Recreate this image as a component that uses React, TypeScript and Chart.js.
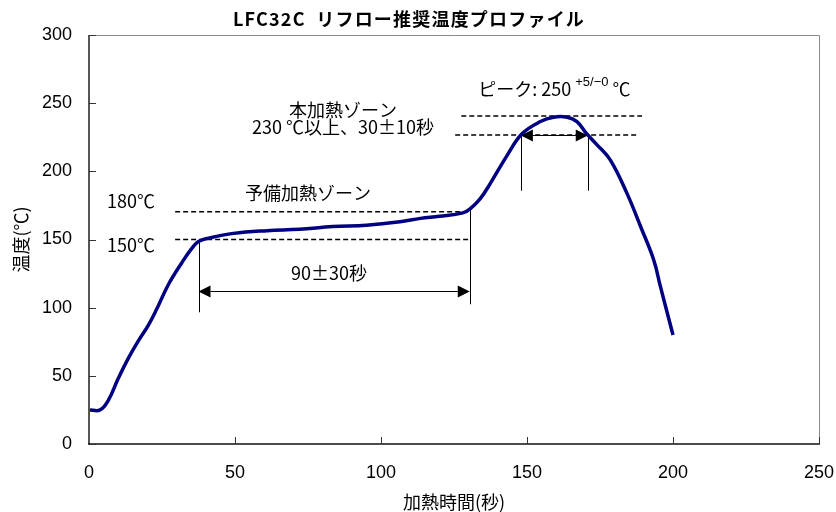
import React, { useEffect, useRef } from "react";
import { Chart, registerables } from "chart.js";

Chart.register(...registerables);

// ---- data ----
const timeSec = [0, 3.8, 6.6, 10, 13.5, 17, 20.3, 23.2, 27.2, 31.8, 35.2, 37.5, 41, 49.5, 61, 72, 83.5, 95, 106.5, 113.5, 120, 128, 130.5, 134, 137.4, 143, 148.3, 154.6, 159.1, 163.7, 167.1, 170.5, 174, 178.5, 184.2, 189, 193.4, 195.7, 200];
const tempC = [25, 25, 32, 48, 63, 76, 87, 99, 117, 133, 143.5, 148.5, 151, 154.5, 156.5, 157.5, 159.5, 160.5, 163, 165.5, 167, 169.5, 172.5, 180, 191, 211, 227.5, 236.5, 239.7, 239.7, 236.5, 227.4, 219.4, 208.4, 184, 159, 135, 115.4, 80];

const xTicks = [0, 50, 100, 150, 200, 250];
const yTicks = [0, 50, 100, 150, 200, 250, 300];

const TITLE = "LFC32C  リフロー推奨温度プロファイル";
const X_TITLE = "加熱時間(秒)";
const Y_TITLE = "温度(℃)";

// annotation levels (data units)
const preheatLines = [170.4, 150]; // dashed lines labelled 180℃ / 150℃
const preheatSpan = [29.5, 130.6];
const preheatArrow = { from: 37.5, to: 130.4, level: 112.5 };
const preheatVerticals = [
  { t: 37.5, top: 150, bottom: 96.6 },
  { t: 130.4, top: 174, bottom: 102.5 },
];
const peakLine = { level: 240.6, from: 127.5, to: 189.4 };
const reflowLine = { level: 226.7, from: 125.4, to: 188.2 };
const reflowArrow = { from: 147.9, to: 170.8, level: 226.7 };
const reflowVerticals = [
  { t: 147.9, top: 226.7, bottom: 185.8 },
  { t: 170.8, top: 226.7, bottom: 185.8 },
];

const FONT = "'Liberation Sans', 'Noto Sans CJK JP', sans-serif";
const FONT_JP = "'Noto Sans CJK JP', 'Liberation Sans', sans-serif";

const annotationPlugin = {
  id: "annot",
  beforeDatasetsDraw(chart: any) {
    const ctx = chart.ctx;
    const xs = chart.scales.x;
    const ys = chart.scales.y;
    const px = (t: number) => xs.getPixelForValue(t);
    const py = (v: number) => ys.getPixelForValue(v);
    ctx.save();
    ctx.strokeStyle = "#000";
    ctx.lineWidth = 1.6;
    ctx.setLineDash([5, 3]);
    const dashed = (t1: number, t2: number, v: number) => {
      ctx.beginPath();
      ctx.moveTo(px(t1), py(v));
      ctx.lineTo(px(t2), py(v));
      ctx.stroke();
    };
    preheatLines.forEach((v) => dashed(preheatSpan[0], preheatSpan[1], v));
    dashed(peakLine.from, peakLine.to, peakLine.level);
    dashed(reflowLine.from, reflowLine.to, reflowLine.level);
    ctx.setLineDash([]);
    ctx.lineWidth = 1;
    const vert = (o: { t: number; top: number; bottom: number }) => {
      ctx.beginPath();
      const x = Math.round(px(o.t)) + 0.5;
      ctx.moveTo(x, py(o.top));
      ctx.lineTo(x, py(o.bottom));
      ctx.stroke();
    };
    preheatVerticals.forEach(vert);
    reflowVerticals.forEach(vert);
    const arrow = (a: { from: number; to: number; level: number }) => {
      const x1 = px(a.from);
      const x2 = px(a.to);
      const y = Math.round(py(a.level)) + 0.5;
      const hl = 12;
      const hw = 6;
      ctx.lineWidth = 1.2;
      ctx.beginPath();
      ctx.moveTo(x1 + hl, y);
      ctx.lineTo(x2 - hl, y);
      ctx.stroke();
      ctx.fillStyle = "#000";
      ctx.beginPath();
      ctx.moveTo(x1, y);
      ctx.lineTo(x1 + hl, y - hw);
      ctx.lineTo(x1 + hl, y + hw);
      ctx.closePath();
      ctx.fill();
      ctx.beginPath();
      ctx.moveTo(x2, y);
      ctx.lineTo(x2 - hl, y - hw);
      ctx.lineTo(x2 - hl, y + hw);
      ctx.closePath();
      ctx.fill();
    };
    arrow(preheatArrow);
    arrow(reflowArrow);

    // texts
    ctx.fillStyle = "#000";
    ctx.font = `18px ${FONT_JP}`;
    ctx.textBaseline = "middle";
    ctx.textAlign = "center";
    ctx.fillText("本加熱ゾーン", px(87), py(245));
    ctx.fillText("230 ℃以上、30±10秒", px(87), py(232.5));
    ctx.fillText("予備加熱ゾーン", px(75), py(184));
    ctx.fillText("90±30秒", px(82.2), py(125.5));
    ctx.textAlign = "left";
    ctx.fillText("180℃", px(6.2), py(178));
    ctx.fillText("150℃", px(6.2), py(146));
    // peak text with superscript
    let x = px(133.3);
    const yb = py(260);
    const main = "ピーク: 250 ";
    ctx.fillText(main, x, yb);
    x += ctx.measureText(main).width;
    ctx.font = `13px ${FONT}`;
    const sup = "+5/−0";
    ctx.fillText(sup, x, yb - 7);
    x += ctx.measureText(sup).width;
    ctx.font = `18px ${FONT_JP}`;
    ctx.fillText(" ℃", x, yb);
    ctx.restore();
  },
  afterDraw(chart: any) {
    const ctx = chart.ctx;
    const a = chart.chartArea;
    const xs = chart.scales.x;
    const ys = chart.scales.y;
    ctx.save();
    // top and right border
    ctx.strokeStyle = "#8a8a8a";
    ctx.lineWidth = 1;
    ctx.beginPath();
    ctx.moveTo(a.left, a.top + 0.5);
    ctx.lineTo(a.right + 0.5, a.top + 0.5);
    ctx.lineTo(a.right + 0.5, a.bottom);
    ctx.stroke();
    // left axis
    ctx.strokeStyle = "#555";
    ctx.lineWidth = 2;
    ctx.beginPath();
    ctx.moveTo(a.left, a.top);
    ctx.lineTo(a.left, a.bottom);
    ctx.stroke();
    // bottom axis
    ctx.strokeStyle = "#111";
    ctx.lineWidth = 1.5;
    ctx.beginPath();
    ctx.moveTo(a.left - 1, a.bottom);
    ctx.lineTo(a.right + 1, a.bottom);
    ctx.stroke();
    // inward ticks
    ctx.lineWidth = 1;
    ctx.strokeStyle = "#333";
    xTicks.forEach((t) => {
      if (t === 0) return;
      const x = Math.round(xs.getPixelForValue(t)) + 0.5;
      ctx.beginPath();
      ctx.moveTo(x, a.bottom);
      ctx.lineTo(x, a.bottom - 7);
      ctx.stroke();
    });
    yTicks.forEach((v) => {
      const y = Math.round(ys.getPixelForValue(v)) + 0.5;
      ctx.beginPath();
      ctx.moveTo(a.left, y);
      ctx.lineTo(a.left + 7, y);
      ctx.stroke();
    });
    // titles
    ctx.fillStyle = "#000";
    ctx.textAlign = "center";
    ctx.textBaseline = "middle";
    ctx.font = `bold 18px ${FONT_JP}`;
    (ctx as any).letterSpacing = "1.2px";
    ctx.fillText(TITLE, 409, 19);
    (ctx as any).letterSpacing = "0px";
    ctx.font = `18px ${FONT_JP}`;
    ctx.fillText(X_TITLE, (a.left + a.right) / 2, 502);
    ctx.save();
    ctx.translate(21, (a.top + a.bottom) / 2);
    ctx.rotate(-Math.PI / 2);
    ctx.fillText(Y_TITLE, 0, 0);
    ctx.restore();
    ctx.restore();
  },
};

export default function App() {
  const ref = useRef<HTMLCanvasElement | null>(null);
  useEffect(() => {
    document.body.style.margin = "0";
    const canvas = ref.current;
    if (!canvas) return;
    const chart = new Chart(canvas, {
      type: "line",
      data: {
        datasets: [
          {
            data: timeSec.map((t, i) => ({ x: t, y: tempC[i] })),
            borderColor: "#000080",
            borderWidth: 3.5,
            pointRadius: 0,
            fill: false,
            tension: 0.4,
          },
        ],
      },
      options: {
        animation: false,
        responsive: false,
        maintainAspectRatio: false,
        devicePixelRatio: 1,
        layout: { padding: { top: 35, right: 17, left: 0, bottom: 0 } },
        plugins: {
          legend: { display: false },
          title: { display: false },
          tooltip: { enabled: false },
        },
        scales: {
          x: {
            type: "linear",
            min: 0,
            max: 250,
            afterBuildTicks: (s: any) => {
              s.ticks = xTicks.map((v) => ({ value: v }));
            },
            afterFit: (s: any) => {
              s.height = 68;
              s.paddingLeft = 0;
              s.paddingRight = 0;
            },
            ticks: {
              color: "#000",
              font: { family: FONT, size: 18 },
              padding: 18,
              maxRotation: 0,
            },
            grid: { display: false, drawTicks: false },
            border: { display: false },
          },
          y: {
            type: "linear",
            min: 0,
            max: 300,
            afterBuildTicks: (s: any) => {
              s.ticks = yTicks.map((v) => ({ value: v }));
            },
            afterFit: (s: any) => {
              s.width = 89;
              s.paddingTop = 0;
              s.paddingBottom = 0;
            },
            ticks: {
              color: "#000",
              font: { family: FONT, size: 18 },
              padding: 17,
            },
            grid: { display: false, drawTicks: false },
            border: { display: false },
          },
        },
      },
      plugins: [annotationPlugin],
    } as any);
    return () => chart.destroy();
  }, []);
  return (
    <div style={{ width: 836, height: 512 }}>
      <canvas ref={ref} width={836} height={512} style={{ width: 836, height: 512, display: "block" }} />
    </div>
  );
}
